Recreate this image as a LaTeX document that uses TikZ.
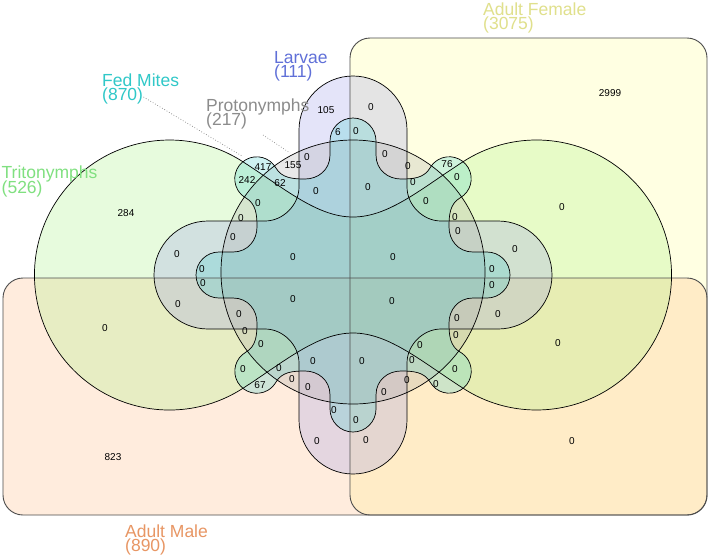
\documentclass[tikz,border=0pt]{standalone}
\usepackage{fontspec}
\setmainfont{Liberation Sans}
\definecolor{cAF}{RGB}{255,255,140}
\definecolor{cAM}{RGB}{255,180,120}
\definecolor{cTR}{RGB}{160,240,120}
\definecolor{cLA}{RGB}{150,150,235}
\definecolor{cPR}{RGB}{165,165,165}
\definecolor{cFM}{RGB}{60,205,205}
\definecolor{tAF}{RGB}{224,224,140}
\definecolor{tAM}{RGB}{232,150,100}
\definecolor{tTR}{RGB}{128,224,128}
\definecolor{tLA}{RGB}{96,112,216}
\definecolor{tPR}{RGB}{140,140,140}
\definecolor{tFM}{RGB}{48,200,200}
\newcommand{\twolines}[2]{\vtop{\baselineskip=14.8pt\lineskiplimit=-100pt\hbox{#1}\hbox{#2}}}
\begin{document}
\begin{tikzpicture}[x=1pt,y=1pt,
  setfill/.style={fill opacity=0.25},
  outline/.style={draw=black, line width=0.7pt},
  rectline/.style={draw=black!70, line width=0.9pt, rounded corners=20pt},
  num/.style={font=\fontsize{10}{10}\selectfont, inner sep=0pt, text=black},
  lab/.style={font=\fontsize{17.5}{15}\selectfont, anchor=base west, inner sep=0pt},
  leader/.style={draw=gray, dotted, line width=0.7pt}]
\useasboundingbox (0,0) rectangle (709,-558);
\fill[white] (0,0) rectangle (709,-558);

\def\trito{(0,58) .. controls (-36,58) and (-68.7,86.75) .. (-110.8,113.7)
  arc[start angle=57.4, end angle=302.6, radius=135]
  .. controls (-68.7,-86.75) and (-36,-58) .. (0,-58)
  .. controls (36,-58) and (68.7,-86.75) .. (110.8,-113.7)
  arc[start angle=-122.6, end angle=122.6, radius=135]
  .. controls (68.7,86.75) and (36,58) .. (0,58) -- cycle}
\def\larvae{(0,199) \foreach \a in {0,90,180,270} {{[rotate=\a]
  .. controls (-29.8,199) and (-54,174.8) .. (-54,145) -- (-54,88)
  .. controls (-54,70) and (-70,54) .. (-88,54) -- (-145,54)
  .. controls (-174.8,54) and (-199,29.8) .. (-199,0)}} -- cycle}
\def\fedm{(0,157) \foreach \a in {0,90,180,270} {{[rotate=\a]
  .. controls (-12.7,157) and (-23,146.7) .. (-23,134) -- (-23,120)
  .. controls (-23,105) and (-35,96) .. (-48,96)
  .. controls (-60,96) and (-71.2,96.8) .. (-77.2,107.2)
  arc[start angle=30, end angle=240, radius=22]
  .. controls (-96.8,71.2) and (-96,60) .. (-96,48)
  .. controls (-96,35) and (-105,23) .. (-120,23) -- (-134,23)
  .. controls (-146.7,23) and (-157,12.7) .. (-157,0)}} -- cycle}
\def\proto{(0,3) circle[radius=132]}

% fills
\fill[cAF, setfill, rounded corners=20pt] (350,-38) rectangle (707,-515);
\fill[cAM, setfill, rounded corners=20pt] (3,-278) rectangle (707,-515);
\begin{scope}[shift={(353,-275)}]
  \fill[cTR, setfill] \trito;
  \fill[cLA, setfill] \larvae;
  \fill[cPR, setfill] \proto;
  \fill[cFM, setfill] \fedm;
\end{scope}

% outlines
\draw[rectline] (350,-38) rectangle (707,-515);
\draw[rectline] (3,-278) rectangle (707,-515);
\begin{scope}[shift={(353,-275)}]
  \draw[outline] \trito;
  \draw[outline] \larvae;
  \draw[outline] \proto;
  \draw[outline] \fedm;
\end{scope}

% labels
\node[lab, text=tAF] (lAF) at (483,-15) {\twolines{Adult Female}{(3075)}};
\node[lab, text=tLA] (lLA) at (274,-63) {\twolines{Larvae}{(111)}};
\node[lab, text=tFM] (lFM) at (102,-86) {\twolines{Fed Mites}{(870)}};
\node[lab, text=tPR] (lPR) at (206,-111) {\twolines{Protonymphs}{(217)}};
\node[lab, text=tTR] (lTR) at (1.5,-178.5) {\twolines{Tritonymphs}{(526)}};
\node[lab, text=tAM] (lAM) at (125,-537) {\twolines{Adult Male}{(890)}};

\coordinate (fmA) at (143.5,-97);
\coordinate (fmB) at (242,-156);
\coordinate (prA) at (263,-135);
\coordinate (prB) at (290,-153);
\draw[leader] (fmA) -- (fmB);
\draw[leader] (prA) -- (prB);

% region counts
\foreach \x/\y/\t [count=\i] in {326/110/105, 338/132/6, 263/167/417, 293/165/155,
  247/180/242, 280/183/62, 126/213/284, 610/93/2999, 447/164/76, 260/385/67, 113/457/823,
  356/131/0, 371/107/0, 307/157/0, 316/191/0, 258/203/0, 241/218/0, 233/237/0, 177/254/0,
  293/257/0, 202/269/0, 385/154/0, 408/166/0, 413/182/0, 457/177/0, 368/187/0, 426/201/0,
  562/207/0, 455/217/0, 458/231/0, 515/249/0, 393/257/0, 492/269/0, 203/283/0, 178/304/0,
  293/299/0, 105/328/0, 239/314/0, 245/331/0, 261/344/0, 243/369/0, 279/368/0, 313/361/0,
  292/379/0, 308/387/0, 334/410/0, 356/420/0, 317/441/0, 492/285/0, 392/301/0, 498/314/0,
  457/318/0, 456/335/0, 558/343/0, 420/345/0, 362/361/0, 412/360/0, 455/369/0, 407/380/0,
  436/384/0, 384/392/0, 366/440/0, 572/441/0}
  \node[num] (n\i) at (\x,-\y) {\t};
\end{tikzpicture}
\end{document}
